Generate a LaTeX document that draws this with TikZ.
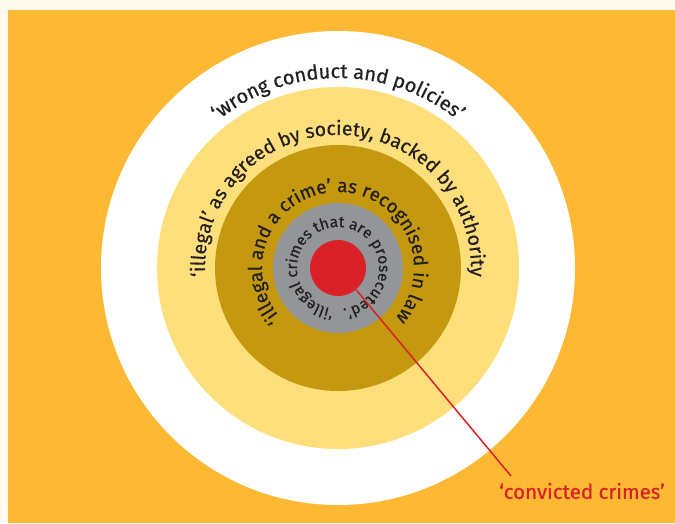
\documentclass[tikz,border=0pt]{standalone}
\usepackage{fontspec}
\setmainfont{Fira Sans}[FakeBold=0.5]
\usetikzlibrary{decorations.text}
\definecolor{cream}{HTML}{FFF8EC}
\definecolor{orangebg}{HTML}{FDB933}
\definecolor{lightyellow}{HTML}{FFDF7B}
\definecolor{darkgold}{HTML}{C4990F}
\definecolor{ringgrey}{HTML}{939598}
\definecolor{crimered}{HTML}{DA2128}
\definecolor{ink}{HTML}{231F20}
\newcommand{\ringsize}[1]{\fontsize{#1}{#1}\selectfont}

\tikzset{
  disc/.style={circle, inner sep=0pt, draw=none},
  ringtext/.style={decorate, decoration={text along path, text align=center, text color=ink}}
}

\begin{document}
\begin{tikzpicture}[x=1pt, y=1pt]
\useasboundingbox (0,0) rectangle (675,-523);
\fill[cream] (0,0) rectangle (675,-523);
\fill[orangebg] (8,-10) rectangle (675,-523);
%
\coordinate (c) at (338,-268);
\node[disc, fill=white, minimum size=474pt] (wrong) at (c) {};
\node[disc, fill=lightyellow, minimum size=362pt] (illegal) at (c) {};
\node[disc, fill=darkgold, minimum size=246pt] (crime) at (c) {};
\node[disc, fill=ringgrey, minimum size=130pt] (prosecuted) at (c) {};
\node[disc, fill=crimered, minimum size=56pt] (convicted) at (c) {};
%
\path[ringtext, decoration={text={|\ringsize{20pt}|‘wrong conduct and policies’}}]
  ([shift={(140:190pt)}]c) arc[start angle=140, end angle=40, radius=190pt];
\path[ringtext, decoration={text={|\ringsize{19.5pt}|‘illegal’ as agreed by society, backed by authority}}]
  ([shift={(200:133pt)}]c) arc[start angle=200, end angle=-20, radius=133pt];
\path[ringtext, decoration={text={|\ringsize{19pt}|‘illegal and a crime’ as recognised in law}}]
  ([shift={(235:76pt)}]c) arc[start angle=235, end angle=-55, radius=76pt];
\path[ringtext, decoration={text={|\ringsize{15.5pt}|‘illegal crimes that are prosecuted’.}}]
  ([shift={(268:41pt)}]c) arc[start angle=268, end angle=-88, radius=41pt];
%
\node[text=crimered, font=\ringsize{20.5pt}] (convictedlabel) at (582,-491) {‘convicted crimes’};
\coordinate (tip) at (511,-476);
\draw[crimered, line width=1.5pt] (convicted) -- (tip);
%
\end{tikzpicture}
\end{document}
